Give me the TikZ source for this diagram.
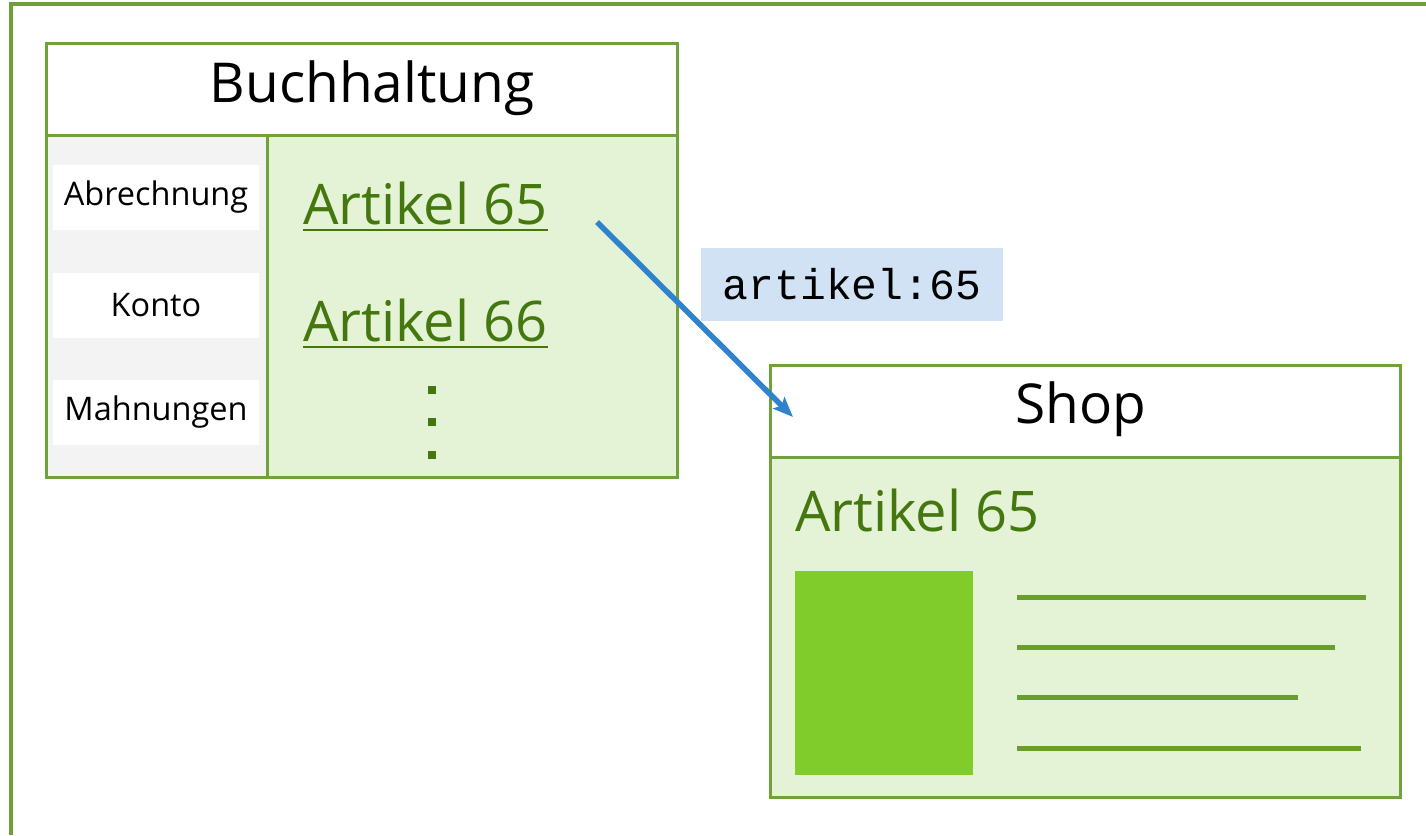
\documentclass[tikz,border=0pt]{standalone}
\usepackage{fontspec}
\setmainfont{Open Sans}
\newfontfamily\monofont{Liberation Mono}
\usetikzlibrary{arrows.meta}
\definecolor{frameG}{HTML}{6E9F38}
\definecolor{boxG}{HTML}{6FA33A}
\definecolor{fillG}{HTML}{E4F2D6}
\definecolor{textG}{HTML}{44780F}
\definecolor{greyF}{HTML}{F3F3F3}
\definecolor{imgG}{HTML}{80CC2A}
\definecolor{lineG}{HTML}{6A9E2C}
\definecolor{arrowB}{HTML}{2F82CC}
\definecolor{labelB}{HTML}{D0E2F3}
\tikzset{
  panel/.style={draw=boxG, line width=3pt},
  bigtext/.style={font=\fontsize{55}{60}\selectfont, inner sep=0pt},
  smalltext/.style={font=\fontsize{32.5}{36}\selectfont, inner sep=0pt},
  linktext/.style={font=\fontsize{56}{60}\selectfont, inner sep=0pt, text=textG},
  rowbox/.style={fill=white, draw=none, minimum width=206pt, minimum height=65pt, inner sep=0pt},
  dotsq/.style={fill=textG, draw=none, minimum size=8pt, inner sep=0pt},
  textline/.style={draw=lineG, line width=5pt},
  flow/.style={draw=arrowB, line width=5.5pt, -{Stealth[length=20pt,width=16pt,inset=4pt]}},
}
\begin{document}
\begin{tikzpicture}[x=1pt,y=-1pt]
\useasboundingbox (0,0) rectangle (1426,835);
% outer frame (top and left only)
\draw[frameG, line width=4pt] (11,835) -- (11,4) -- (1426,4);

% ---------- Buchhaltung ----------
\fill[greyF] (46,135) rectangle (267,477);
\fill[fillG] (267,135) rectangle (677,477);
\node[rowbox] (r1) at (156,197) {};
\node[rowbox] (r2) at (156,305) {};
\node[rowbox] (r3) at (156,412) {};
\node[smalltext] (t1) at (r1) {Abrechnung};
\node[smalltext] (t2) at (r2) {Konto};
\node[smalltext] (t3) at (r3) {Mahnungen};
\draw[panel] (46,43) rectangle (677,477);
\draw[panel] (46,135) -- (677,135);
\draw[panel] (267,135) -- (267,477);
\node[bigtext] (bh) at (372,88) {Buchhaltung};

\node[linktext, anchor=base west] (a65) at (303,224) {Artikel 65};
\node[linktext, anchor=base west] (a66) at (303,341) {Artikel 66};
\draw[textG, line width=2.5pt] ([yshift=-6pt]a65.base west) -- ([yshift=-6pt]a65.base east);
\draw[textG, line width=2.5pt] ([yshift=-6pt]a66.base west) -- ([yshift=-6pt]a66.base east);
\node[dotsq] (d1) at (432,390) {};
\node[dotsq] (d2) at (432,422) {};
\node[dotsq] (d3) at (432,455) {};

% ---------- label ----------
\node[fill=labelB, minimum width=302pt, minimum height=73pt, inner sep=0pt,
      font=\monofont\fontsize{43}{48}\selectfont] (lab) at (852,284) {artikel:65};

% ---------- Shop ----------
\fill[fillG] (770,457) rectangle (1400,797);
\draw[panel] (770,365) rectangle (1400,797);
\draw[panel] (770,457) -- (1400,457);
\node[bigtext] (shop) at (1081,409) {Shop};
\node[linktext, anchor=base west] (s65) at (795,531) {Artikel 65};
\node[fill=imgG, draw=none, minimum width=178pt, minimum height=204pt, inner sep=0pt] (img) at (884,673) {};
\coordinate (l1a) at (1017,597); \coordinate (l1b) at (1366,597);
\coordinate (l2a) at (1017,647); \coordinate (l2b) at (1335,647);
\coordinate (l3a) at (1017,697); \coordinate (l3b) at (1298,697);
\coordinate (l4a) at (1017,748); \coordinate (l4b) at (1361,748);
\draw[textline] (l1a) -- (l1b);
\draw[textline] (l2a) -- (l2b);
\draw[textline] (l3a) -- (l3b);
\draw[textline] (l4a) -- (l4b);

% ---------- arrow ----------
\coordinate (as) at (597,222);
\coordinate (ae) at (793,417);
\draw[flow] (as) -- (ae);
\end{tikzpicture}
\end{document}
